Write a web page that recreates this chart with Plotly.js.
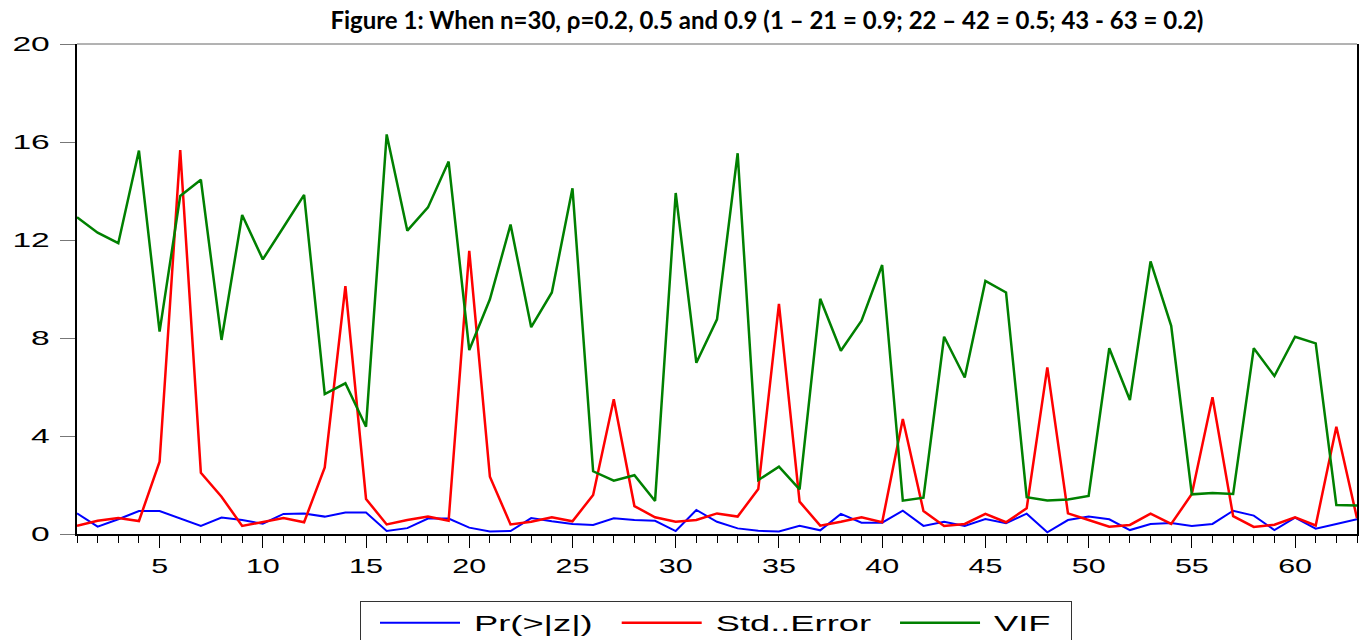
<!DOCTYPE html>
<html>
<head>
<meta charset="utf-8">
<script src="https://cdn.plot.ly/plotly-3.0.1.min.js"></script>
<style>
html, body { margin: 0; padding: 0; background: #ffffff; }
#chart { width: 1364px; height: 640px; }
</style>
</head>
<body>
<div id="chart"></div>
<script>
// Observation index 1..63
const obs = Array.from({length: 63}, (_, i) => i + 1);

const prZ = [
  0.84, 0.30, 0.60, 0.94, 0.94, 0.64, 0.33, 0.67, 0.57, 0.42,
  0.82, 0.84, 0.71, 0.88, 0.88, 0.12, 0.24, 0.63, 0.63, 0.26,
  0.10, 0.12, 0.65, 0.52, 0.41, 0.37, 0.64, 0.57, 0.54, 0.12,
  0.98, 0.50, 0.23, 0.13, 0.10, 0.34, 0.15, 0.82, 0.46, 0.46,
  0.95, 0.33, 0.50, 0.33, 0.61, 0.44, 0.83, 0.07, 0.57, 0.71,
  0.60, 0.16, 0.41, 0.45, 0.33, 0.41, 0.95, 0.75, 0.16, 0.67,
  0.22, 0.41, 0.60
];

const stdError = [
  0.34, 0.54, 0.65, 0.53, 2.95, 15.67, 2.50, 1.52, 0.33, 0.50,
  0.65, 0.48, 2.72, 10.12, 1.43, 0.39, 0.57, 0.71, 0.54, 11.56,
  2.34, 0.39, 0.50, 0.68, 0.52, 1.59, 5.50, 1.14, 0.68, 0.50,
  0.57, 0.84, 0.71, 1.84, 9.39, 1.32, 0.34, 0.50, 0.68, 0.48,
  4.69, 0.94, 0.33, 0.41, 0.82, 0.48, 1.05, 6.80, 0.84, 0.57,
  0.30, 0.37, 0.83, 0.41, 1.63, 5.58, 0.73, 0.29, 0.38, 0.68,
  0.35, 4.38, 0.64
];

const vif = [
  12.93, 12.30, 11.87, 15.65, 8.26, 13.80, 14.46, 7.92, 13.02, 11.21,
  12.52, 13.84, 5.71, 6.15, 4.38, 16.31, 12.38, 13.33, 15.20, 7.51,
  9.58, 12.63, 8.44, 9.86, 14.11, 2.56, 2.18, 2.40, 1.35, 13.92,
  6.99, 8.76, 15.54, 2.20, 2.75, 1.82, 9.60, 7.48, 8.71, 10.98,
  1.36, 1.48, 8.05, 6.39, 10.33, 9.86, 1.50, 1.37, 1.41, 1.55,
  7.58, 5.47, 11.13, 8.50, 1.62, 1.67, 1.63, 7.58, 6.45, 8.05,
  7.78, 1.18, 1.16
];

const seriesNames = ['Pr(>|z|)', 'Std..Error', 'VIF'];
const seriesColors = ['#0000ff', '#ff0000', '#008000'];
const seriesData = [prZ, stdError, vif];
const seriesWidths = [2, 2.5, 2.5];

const yTicks = [0, 4, 8, 12, 16, 20];
const titleText = 'Figure 1: When n=30, \u03c1=0.2, 0.5 and 0.9 (1 \u2013 21 = 0.9; 22 \u2013 42 = 0.5; 43 - 63 = 0.2)';

const traces = seriesData.map((d, i) => ({
  x: obs,
  y: d,
  type: 'scatter',
  mode: 'lines',
  name: seriesNames[i],
  line: { color: seriesColors[i], width: seriesWidths[i] }
}));

const tickFont = { family: 'Liberation Sans, Arial, sans-serif', size: 21, color: '#000000' };

const layout = {
  width: 1364,
  height: 640,
  paper_bgcolor: '#ffffff',
  plot_bgcolor: '#ffffff',
  margin: { l: 77, r: 7, t: 44, b: 106 },
  title: {
    text: '<b>' + titleText + '</b>',
    font: { family: 'Lato, Liberation Sans, sans-serif', size: 24, color: '#000000' },
    xref: 'paper', x: 0.539, xanchor: 'center',
    yref: 'container', y: 0.968, yanchor: 'middle'
  },
  showlegend: true,
  legend: {
    orientation: 'h',
    xref: 'container', x: 360 / 1364, xanchor: 'left',
    yref: 'container', y: 1 - 601 / 640, yanchor: 'top',
    bordercolor: '#333333',
    borderwidth: 1,
    bgcolor: '#ffffff',
    font: { family: 'Liberation Sans, Arial, sans-serif', size: 22, color: '#000000' },
    traceorder: 'normal'
  },
  xaxis: {
    range: [1, 63],
    tick0: 0,
    dtick: 5,
    ticks: 'outside',
    ticklen: 12,
    tickwidth: 1,
    tickcolor: '#000000',
    minor: { dtick: 1, tick0: 0, ticks: 'outside', ticklen: 7, tickwidth: 1, tickcolor: '#000000', showgrid: false },
    showgrid: false,
    zeroline: false,
    showline: true,
    linecolor: '#000000',
    linewidth: 2,
    mirror: false,
    tickfont: tickFont,
    fixedrange: true
  },
  yaxis: {
    range: [0, 20],
    tickvals: yTicks,
    ticktext: yTicks.map(String),
    ticks: 'outside',
    ticklen: 15,
    tickwidth: 1,
    tickcolor: '#777777',
    ticklabelstandoff: 6,
    showgrid: false,
    zeroline: false,
    showline: true,
    linecolor: '#000000',
    linewidth: 2,
    mirror: true,
    tickfont: tickFont,
    fixedrange: true
  },
  shapes: [
    { type: 'line', xref: 'paper', yref: 'paper', x0: 0, x1: 1, y0: 1, y1: 1, line: { color: '#666666', width: 1 } }
  ]
};

// The reference's lettering is horizontally wide; stretch glyphs with SVG textLength.
function stretchText(el, factor) {
  const w = el.getComputedTextLength();
  if (w > 0) {
    el.setAttribute('textLength', (w * factor).toFixed(1));
    el.setAttribute('lengthAdjust', 'spacingAndGlyphs');
  }
  return w * factor;
}

Plotly.newPlot('chart', traces, layout, { displayModeBar: false, staticPlot: true }).then(gd => {
  gd.querySelectorAll('.xtick text').forEach(t => stretchText(t, 1.45));
  gd.querySelectorAll('.ytick text').forEach(t => stretchText(t, 1.6));

  // Legend: longer line samples, stretched labels, re-spaced entries on one row.
  const legend = gd.querySelector('.legend');
  if (legend) {
    legend.querySelectorAll('[clip-path]').forEach(el => el.removeAttribute('clip-path'));
    const items = legend.querySelectorAll('.traces');
    const lineLen = 80, textGap = 14, itemGap = 24, padLeft = 20, padRight = 20;
    let x = padLeft - 5;
    let y0 = null;
    items.forEach(item => {
      const tr = item.getAttribute('transform') || '';
      const m = tr.match(/translate\(([-\d.]+)[ ,]+([-\d.]+)\)/);
      const y = m ? parseFloat(m[2]) : 0;
      if (y0 === null) y0 = y;
      item.querySelectorAll('path.js-line').forEach(p => p.setAttribute('d', 'M5,0h' + lineLen));
      const txt = item.querySelector('text.legendtext');
      let tw = 0;
      if (txt) {
        txt.setAttribute('x', 5 + lineLen + textGap);
        tw = stretchText(txt, 1.65);
      }
      item.setAttribute('transform', 'translate(' + x + ',' + y0 + ')');
      x += 5 + lineLen + textGap + tw + itemGap;
    });
    const bg = legend.querySelector('rect.bg');
    if (bg) {
      bg.setAttribute('width', (x - itemGap + padRight).toFixed(1));
      bg.setAttribute('height', '60');
    }
  }
});
</script>
</body>
</html>
